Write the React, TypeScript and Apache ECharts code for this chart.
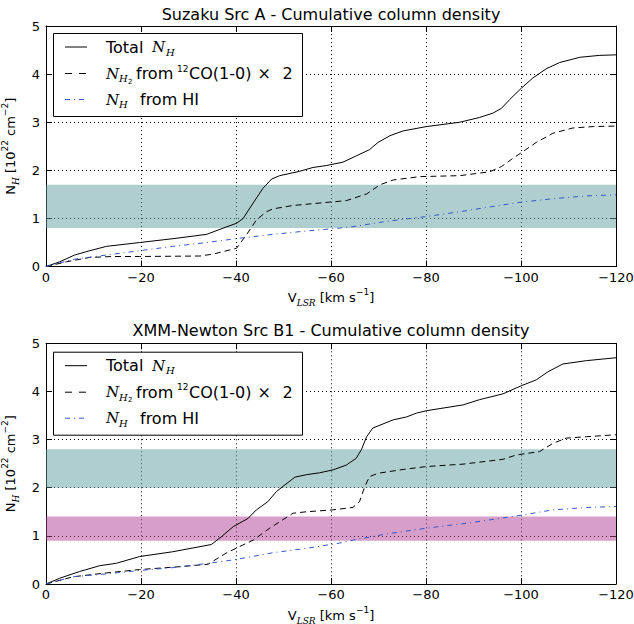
import React, { useEffect, useRef } from 'react';
import * as echarts from 'echarts';

const FONT = "'DejaVu Sans', sans-serif";
const SERIF = "'DejaVu Serif', serif";

// ---- Data (velocity km/s, column density 1e22 cm^-2) ----
const xTicks = [0, -20, -40, -60, -80, -100, -120];
const yTicks = [0, 1, 2, 3, 4, 5];

const topTitle = 'Suzaku Src A - Cumulative column density';
const bottomTitle = 'XMM-Newton Src B1 - Cumulative column density';

const topTotal = [[0, 0], [-2.9, 0.1], [-6, 0.24], [-9.2, 0.33], [-12.7, 0.42], [-19.7, 0.5], [-26.7, 0.58], [-33.8, 0.67], [-37.3, 0.8], [-40.1, 0.9], [-41.5, 1.0], [-43.6, 1.32], [-45.7, 1.63], [-47.5, 1.82], [-49.2, 1.89], [-53.4, 1.98], [-56.2, 2.06], [-59, 2.1], [-62.5, 2.17], [-65.3, 2.3], [-68.1, 2.43], [-69.9, 2.58], [-72.4, 2.72], [-75.2, 2.82], [-80.1, 2.91], [-87.1, 3.0], [-91.3, 3.1], [-94.1, 3.19], [-95.9, 3.29], [-97.6, 3.47], [-100.1, 3.71], [-102.5, 3.92], [-105.3, 4.11], [-108.1, 4.24], [-112.4, 4.35], [-116.6, 4.39], [-120, 4.4]];
const topH2 = [[0, 0], [-4.3, 0.1], [-9.2, 0.19], [-14.1, 0.21], [-19.7, 0.21], [-32.4, 0.22], [-35.2, 0.26], [-40.1, 0.38], [-42.2, 0.66], [-44.3, 0.97], [-46.4, 1.14], [-47.8, 1.2], [-52, 1.27], [-59.7, 1.34], [-63.2, 1.37], [-67.5, 1.51], [-70.3, 1.7], [-73.1, 1.8], [-78.7, 1.87], [-87.1, 1.89], [-93.4, 1.97], [-95.9, 2.08], [-98.3, 2.25], [-100.4, 2.39], [-103.2, 2.58], [-106.7, 2.77], [-110.9, 2.88], [-115.2, 2.91], [-120, 2.92]];
const topHI = [[0, 0], [-5.7, 0.15], [-12.7, 0.24], [-19.7, 0.33], [-26.7, 0.42], [-33.8, 0.5], [-40.8, 0.59], [-47.8, 0.67], [-54.8, 0.74], [-61.8, 0.8], [-64.6, 0.83], [-71.7, 0.94], [-80.1, 1.04], [-87.1, 1.14], [-94.1, 1.25], [-100.1, 1.34], [-106.7, 1.41], [-113.8, 1.47], [-120, 1.49]];
const topBands = [[0.8, 1.7]];

const botTotal = [[0, 0], [-2.9, 0.12], [-7.1, 0.26], [-11.3, 0.38], [-14.8, 0.43], [-19.7, 0.57], [-26.7, 0.67], [-34.8, 0.82], [-36.9, 0.98], [-39.4, 1.19], [-42.5, 1.36], [-44.3, 1.54], [-46.7, 1.71], [-48.5, 1.92], [-52.4, 2.22], [-54.8, 2.27], [-57.6, 2.31], [-60.4, 2.37], [-63.2, 2.47], [-65.3, 2.61], [-66.4, 2.79], [-67.5, 3.06], [-68.8, 3.24], [-73.1, 3.41], [-75.9, 3.47], [-78, 3.55], [-80.1, 3.6], [-87.8, 3.72], [-91.3, 3.83], [-96.2, 3.95], [-100.1, 4.12], [-103.2, 4.24], [-105.7, 4.41], [-108.8, 4.57], [-113.8, 4.64], [-120, 4.7]];
const botH2 = [[0, 0], [-5.7, 0.15], [-12.7, 0.23], [-19.7, 0.3], [-28.2, 0.36], [-34.1, 0.41], [-37.9, 0.64], [-40.8, 0.78], [-43.6, 0.91], [-47.1, 1.16], [-52, 1.47], [-54.8, 1.5], [-60.4, 1.54], [-64.6, 1.59], [-66, 1.71], [-67.1, 2.02], [-68.1, 2.23], [-69.9, 2.3], [-75.2, 2.38], [-80.1, 2.44], [-87.8, 2.49], [-96.2, 2.59], [-99, 2.68], [-103.9, 2.75], [-106.7, 2.92], [-109.5, 3.03], [-113.8, 3.06], [-120, 3.1]];
const botHI = [[0, 0], [-5.7, 0.15], [-12.7, 0.21], [-19.7, 0.28], [-26.7, 0.34], [-34.1, 0.43], [-39.4, 0.5], [-47.8, 0.65], [-54.8, 0.74], [-61.8, 0.85], [-64.6, 0.91], [-71.7, 1.04], [-80.1, 1.16], [-89.2, 1.27], [-100.1, 1.43], [-106.7, 1.54], [-113.8, 1.59], [-120, 1.61]];
const botBands = [[2.0, 2.8], [0.9, 1.4]];

// ---- Styles ----
const TEAL = 'rgba(95,158,160,0.5)';
const MAGENTA = 'rgba(173,61,145,0.5)';
const BLUE = '#3558c8';
const DASH = [6, 4];
const DASHDOT = [5, 4, 1, 4];

const GRIDS = [
  { left: 46, right: 18, top: 26, height: 240.6, outerBoundsMode: 'none', containLabel: false },
  { left: 46, right: 18, top: 343.3, height: 240.7, outerBoundsMode: 'none', containLabel: false },
];

const fmtX = (v: number) => (v === 0 ? '0' : '\u2212' + Math.abs(v));

const rich = {
  n: { fontFamily: FONT, fontSize: 13, lineHeight: 20, color: '#000' },
  s: { fontFamily: SERIF, fontStyle: 'italic', fontSize: 9, lineHeight: 9, color: '#000', verticalAlign: 'bottom' },
  p: { fontFamily: FONT, fontSize: 9, lineHeight: 9, color: '#000', verticalAlign: 'top' },
};

function buildAxes(i: number) {
  const xMin = xTicks[xTicks.length - 1];
  const xMax = xTicks[0];
  const interval = xTicks[0] - xTicks[1];
  const line = { show: true, onZero: false, lineStyle: { color: '#000', width: 1 } };
  const tick = { show: true, inside: true, length: 6, lineStyle: { color: '#000', width: 1 } };
  const split = { show: true, lineStyle: { color: '#000', width: 1, type: [1, 3] } };
  const xs = [
    {
      type: 'value', gridIndex: i, min: xMin, max: xMax, interval, inverse: true, position: 'bottom',
      axisLine: line, axisTick: tick, splitLine: split,
      axisLabel: { formatter: fmtX, color: '#000', fontFamily: FONT, fontSize: 13, margin: 4 },
      name: '{n|V}{s|LSR}{n| [km s}{p|\u22121}{n|]}', nameLocation: 'middle', nameGap: 21,
      nameTextStyle: { rich },
    },
    {
      type: 'value', gridIndex: i, min: xMin, max: xMax, interval, inverse: true, position: 'top',
      axisLine: line, axisTick: tick, splitLine: { show: false }, axisLabel: { show: false },
    },
  ];
  const ys = [
    {
      type: 'value', gridIndex: i, min: yTicks[0], max: yTicks[yTicks.length - 1], interval: 1, position: 'left',
      axisLine: line, axisTick: tick, splitLine: split,
      axisLabel: { color: '#000', fontFamily: FONT, fontSize: 13, margin: 6 },
      name: '{n|N}{s|H}{n| [10}{p|22}{n| cm}{p|\u22122}{n|]}', nameLocation: 'middle', nameGap: 22,
      nameRotate: 90,
      nameTextStyle: { rich },
    },
    {
      type: 'value', gridIndex: i, min: yTicks[0], max: yTicks[yTicks.length - 1], interval: 1, position: 'right',
      axisLine: line, axisTick: tick, splitLine: { show: false }, axisLabel: { show: false },
    },
  ];
  return { xs, ys };
}

function buildSeries(i: number, total: number[][], h2: number[][], hi: number[][], bands: number[][], colors: string[]) {
  const base = { type: 'line', xAxisIndex: 2 * i, yAxisIndex: 2 * i, symbol: 'none', showSymbol: false, silent: true };
  return [
    {
      ...base, name: 'total' + i, data: total, z: 3,
      lineStyle: { color: '#000', width: 1 },
      markArea: {
        silent: true,
        data: bands.map((b, k) => [{ yAxis: b[0], itemStyle: { color: colors[k] } }, { yAxis: b[1] }]),
      },
    },
    { ...base, name: 'h2' + i, data: h2, z: 3, lineStyle: { color: '#000', width: 1, type: DASH } },
    { ...base, name: 'hi' + i, data: hi, z: 3, lineStyle: { color: BLUE, width: 1, type: DASHDOT } },
  ];
}

function legend(boxTop: number) {
  const r1 = boxTop + 14;
  const r2 = boxTop + 40.5;
  const r3 = boxTop + 66.5;
  const t = (text: string, x: number, y: number, extra: any = {}) => ({
    type: 'text', z: 101, x, y,
    style: { text, fill: '#000', font: `16px ${FONT}`, verticalAlign: 'middle', align: 'left', ...extra },
  });
  const nItalic = `italic 15px ${SERIF}`;
  const subItalic = `italic 10px ${SERIF}`;
  return [
    { type: 'rect', z: 100, shape: { x: 53.5, y: boxTop + 0.5, width: 249, height: 83 }, style: { fill: '#fff', stroke: '#000', lineWidth: 1 } },
    { type: 'line', z: 101, shape: { x1: 65, y1: r1, x2: 87, y2: r1 }, style: { stroke: '#000', lineWidth: 1 } },
    { type: 'line', z: 101, shape: { x1: 65, y1: r2, x2: 87, y2: r2 }, style: { stroke: '#000', lineWidth: 1, lineDash: [7, 7] } },
    { type: 'line', z: 101, shape: { x1: 65, y1: r3, x2: 87, y2: r3 }, style: { stroke: BLUE, lineWidth: 1, lineDash: DASHDOT } },
    t('Total', 106, r1),
    t('N', 152, r1, { font: nItalic }),
    t('H', 166, r1 + 5, { font: subItalic }),
    t('N', 106, r2, { font: nItalic }),
    t('H', 119, r2 + 5, { font: subItalic }),
    t('2', 128, r2 + 8, { font: `7px ${FONT}` }),
    t('from', 136, r2),
    t('12', 177, r2 - 5, { font: `9px ${FONT}` }),
    t('CO(1-0)', 189, r2),
    t('\u00d7', 257.5, r2, { font: `16px ${SERIF}` }),
    t('2', 282.5, r2),
    t('N', 106, r3, { font: nItalic }),
    t('H', 119, r3 + 5, { font: subItalic }),
    t('from HI', 140, r3),
  ];
}

export default function App() {
  const ref = useRef<HTMLDivElement>(null);
  useEffect(() => {
    const chart = echarts.init(ref.current!, null, { renderer: 'svg' });
    const a0 = buildAxes(0);
    const a1 = buildAxes(1);
    const titleStyle = { fontFamily: FONT, fontSize: 16, fontWeight: 'normal', color: '#000' };
    chart.setOption({
      animation: false,
      backgroundColor: '#fff',
      title: [
        { text: topTitle, left: 331, top: 6, textAlign: 'center', padding: 0, textStyle: titleStyle },
        { text: bottomTitle, left: 331, top: 322.5, textAlign: 'center', padding: 0, textStyle: titleStyle },
      ],
      grid: GRIDS,
      xAxis: [...a0.xs, ...a1.xs],
      yAxis: [...a0.ys, ...a1.ys],
      series: [
        ...buildSeries(0, topTotal, topH2, topHI, topBands, [TEAL]),
        ...buildSeries(1, botTotal, botH2, botHI, botBands, [TEAL, MAGENTA]),
      ],
      graphic: [...legend(33), ...legend(351.7)],
    });
    return () => chart.dispose();
  }, []);
  return <div ref={ref} style={{ position: 'fixed', left: 0, top: 0, width: 634, height: 624 }} />;
}
